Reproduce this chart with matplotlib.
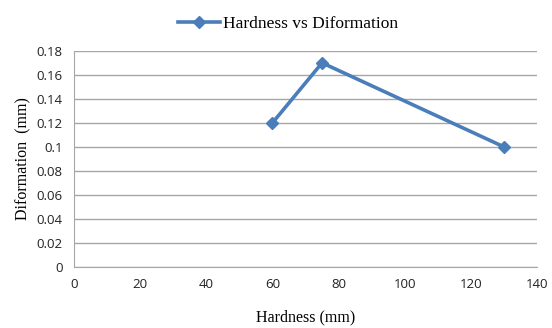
import matplotlib.pyplot as plt

# Hardness vs deformation readings
hardness = [60, 75, 130]
deformation = [0.12, 0.17, 0.10]

x_ticks = [0, 20, 40, 60, 80, 100, 120, 140]
y_ticks = [0, 0.02, 0.04, 0.06, 0.08, 0.1, 0.12, 0.14, 0.16, 0.18]
y_tick_labels = ['0', '0.02', '0.04', '0.06', '0.08', '0.1', '0.12', '0.14', '0.16', '0.18']

fig = plt.figure(figsize=(5.52, 3.28), dpi=100)
ax = fig.add_axes([0.134, 0.186, 0.839, 0.659])

blue = '#4A7EBB'
ax.plot(hardness, deformation, color=blue, linewidth=2.6, marker='D',
        markersize=6, label='Hardness vs Diformation', zorder=3)

ax.set_xlim(0, 140)
ax.set_ylim(0, 0.18)
ax.set_xticks(x_ticks)
ax.set_yticks(y_ticks)
ax.set_yticklabels(y_tick_labels)

ax.yaxis.grid(True, color='#A6A6A6', linewidth=1)
ax.set_axisbelow(True)
for side in ['top', 'right']:
    ax.spines[side].set_visible(False)
for side in ['left', 'bottom']:
    ax.spines[side].set_color('#A6A6A6')
ax.tick_params(length=0, pad=8, labelsize=9.5, labelcolor='#222222')
for lbl in ax.get_xticklabels() + ax.get_yticklabels():
    lbl.set_family(['Open Sans', 'DejaVu Sans'])

ax.set_xlabel('Hardness (mm)', family='Liberation Serif', fontsize=11.5, labelpad=13)
ax.set_ylabel('Diformation  (mm)', family='Liberation Serif', fontsize=11.5, labelpad=4)

leg = fig.legend(loc='upper center', bbox_to_anchor=(0.522, 1.0), frameon=False,
                 prop={'family': 'Liberation Serif', 'size': 12.5},
                 handlelength=2.4, handletextpad=0.2)

fig.savefig('out.png', dpi=100)
